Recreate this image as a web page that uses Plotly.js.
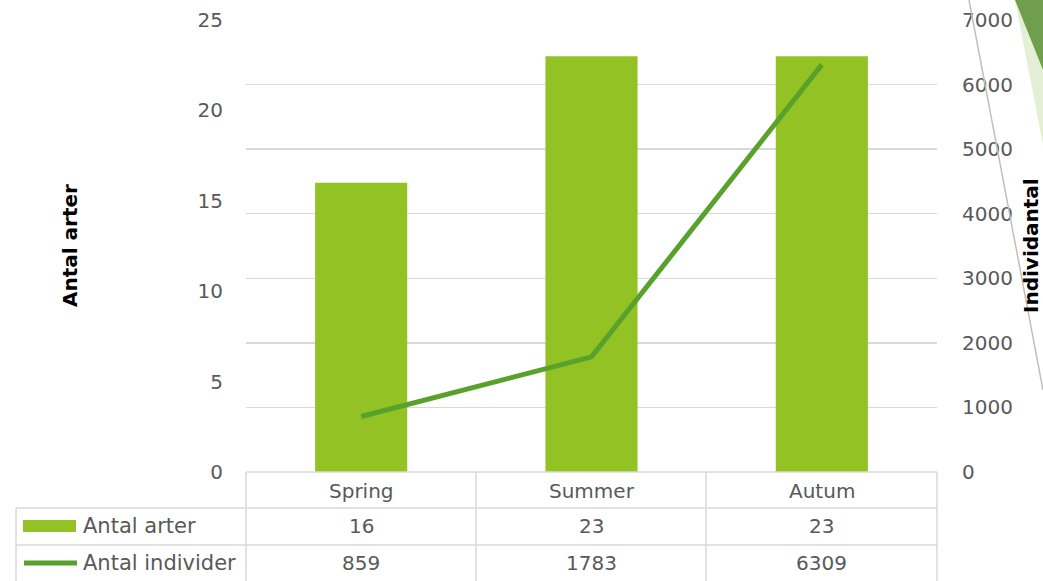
<!DOCTYPE html>
<html>
<head>
<meta charset="utf-8">
<script src="https://cdn.plot.ly/plotly-3.0.1.min.js"></script>
<style>html,body{margin:0;padding:0;background:#fff;}#chart{width:1043px;height:581px;}</style>
</head>
<body>
<div id="chart"></div>
<script>
const categories = ["Spring", "Summer", "Autum"];
const antalArter = [16, 23, 23];
const antalIndivider = [859, 1783, 6309];
const seriesNames = ["Antal arter", "Antal individer"];
const leftTitle = "Antal arter";
const rightTitle = "Individantal";

const W = 1043, H = 581;
const L = 246, R = 937, T = 20, B = 472;
const px = x => (x - L) / (R - L);
const py = y => (B - y) / (B - T);

const FONT = "DejaVu Sans";
const GREY = "#595959";
const LINE = "#d9d9d9";
const BARC = "#93c225";
const LINEC = "#58a22b";

const traces = [
  {type: "bar", x: categories, y: antalArter, name: seriesNames[0],
   marker: {color: BARC}, yaxis: "y", hoverinfo: "none"},
  {type: "scatter", mode: "lines", x: categories, y: antalIndivider, name: seriesNames[1],
   line: {color: LINEC, width: 5}, yaxis: "y2", hoverinfo: "none"}
];

const shapes = [];
const hline = (x0, x1, y) => shapes.push({type: "line", xref: "paper", yref: "paper",
  x0: px(x0), x1: px(x1), y0: py(y), y1: py(y), line: {color: LINE, width: 1.5}});
const vline = (x, y0, y1) => shapes.push({type: "line", xref: "paper", yref: "paper",
  x0: px(x), x1: px(x), y0: py(y0), y1: py(y1), line: {color: LINE, width: 1.5}});
hline(246, 937, 472);
hline(16, 937, 508);
hline(16, 937, 545);
vline(16, 508, 581);
vline(246, 472, 581);
vline(476, 472, 581);
vline(706, 472, 581);
vline(937, 472, 581);

// legend keys in table
shapes.push({type: "rect", xref: "paper", yref: "paper", x0: px(23), x1: px(76), y0: py(520), y1: py(532),
  fillcolor: BARC, line: {width: 0}});
shapes.push({type: "line", xref: "paper", yref: "paper", x0: px(24), x1: px(77), y0: py(563), y1: py(563),
  line: {color: LINEC, width: 5}});

// decoration
const path = pts => "M" + pts.map(p => px(p[0]) + "," + py(p[1])).join(" L") + " Z";
shapes.push({type: "path", xref: "paper", yref: "paper", path: path([[1015,0],[1043,0],[1043,145]]),
  fillcolor: "#e4f0d6", line: {width: 0}});
shapes.push({type: "path", xref: "paper", yref: "paper", path: path([[1015,0],[1043,0],[1043,70]]),
  fillcolor: "#6f9e4c", line: {width: 0}});
shapes.push({type: "line", xref: "paper", yref: "paper", x0: px(969), y0: py(0), x1: px(1043), y1: py(390),
  line: {color: "#bfbfbf", width: 1.5}});

const annotations = [];
const rows = [antalArter, antalIndivider];
const rowY = [526, 563];
rows.forEach((vals, r) => {
  vals.forEach((v, i) => annotations.push({xref: "x", yref: "paper", x: categories[i], y: py(rowY[r]),
    text: String(v), showarrow: false, xanchor: "center", yanchor: "middle",
    font: {family: FONT, size: 20, color: GREY}}));
  annotations.push({xref: "paper", yref: "paper", x: px(81), y: py(rowY[r]), text: seriesNames[r],
    showarrow: false, xanchor: "left", yanchor: "middle", font: {family: FONT, size: 21, color: GREY}});
});
categories.forEach(c => annotations.push({xref: "x", yref: "paper", x: c, y: py(491), text: c,
  showarrow: false, xanchor: "center", yanchor: "middle", font: {family: FONT, size: 20, color: GREY}}));
annotations.push({xref: "paper", yref: "paper", x: px(70), y: py(246), text: "<b>" + leftTitle + "</b>",
  textangle: -90, showarrow: false, xanchor: "center", yanchor: "middle",
  font: {family: FONT, size: 20, color: "#000"}});
annotations.push({xref: "paper", yref: "paper", x: px(1031), y: py(246), text: "<b>" + rightTitle + "</b>",
  textangle: -90, showarrow: false, xanchor: "center", yanchor: "middle",
  font: {family: FONT, size: 20, color: "#000"}});

const layout = {
  width: W, height: H,
  margin: {l: L, r: W - R, t: T, b: H - B, pad: 0},
  paper_bgcolor: "#fff", plot_bgcolor: "rgba(0,0,0,0)",
  showlegend: false,
  bargap: 0.6,
  font: {family: FONT, size: 20, color: GREY},
  xaxis: {type: "category", showticklabels: false, showgrid: false, zeroline: false, showline: false,
    fixedrange: true},
  yaxis: {range: [0, 25], dtick: 5, showgrid: false, zeroline: false, showline: false,
    ticks: "", ticklabelstandoff: 22, tickfont: {family: FONT, size: 20, color: GREY}},
  yaxis2: {range: [0, 7000], dtick: 1000, overlaying: "y", side: "right", showgrid: true,
    gridcolor: LINE, gridwidth: 1.5, zeroline: false, showline: false, ticks: "",
    ticklabelstandoff: 24, tickfont: {family: FONT, size: 20, color: GREY}},
  shapes: shapes,
  annotations: annotations
};

Plotly.newPlot("chart", traces, layout, {staticPlot: true, displayModeBar: false});
</script>
</body>
</html>
